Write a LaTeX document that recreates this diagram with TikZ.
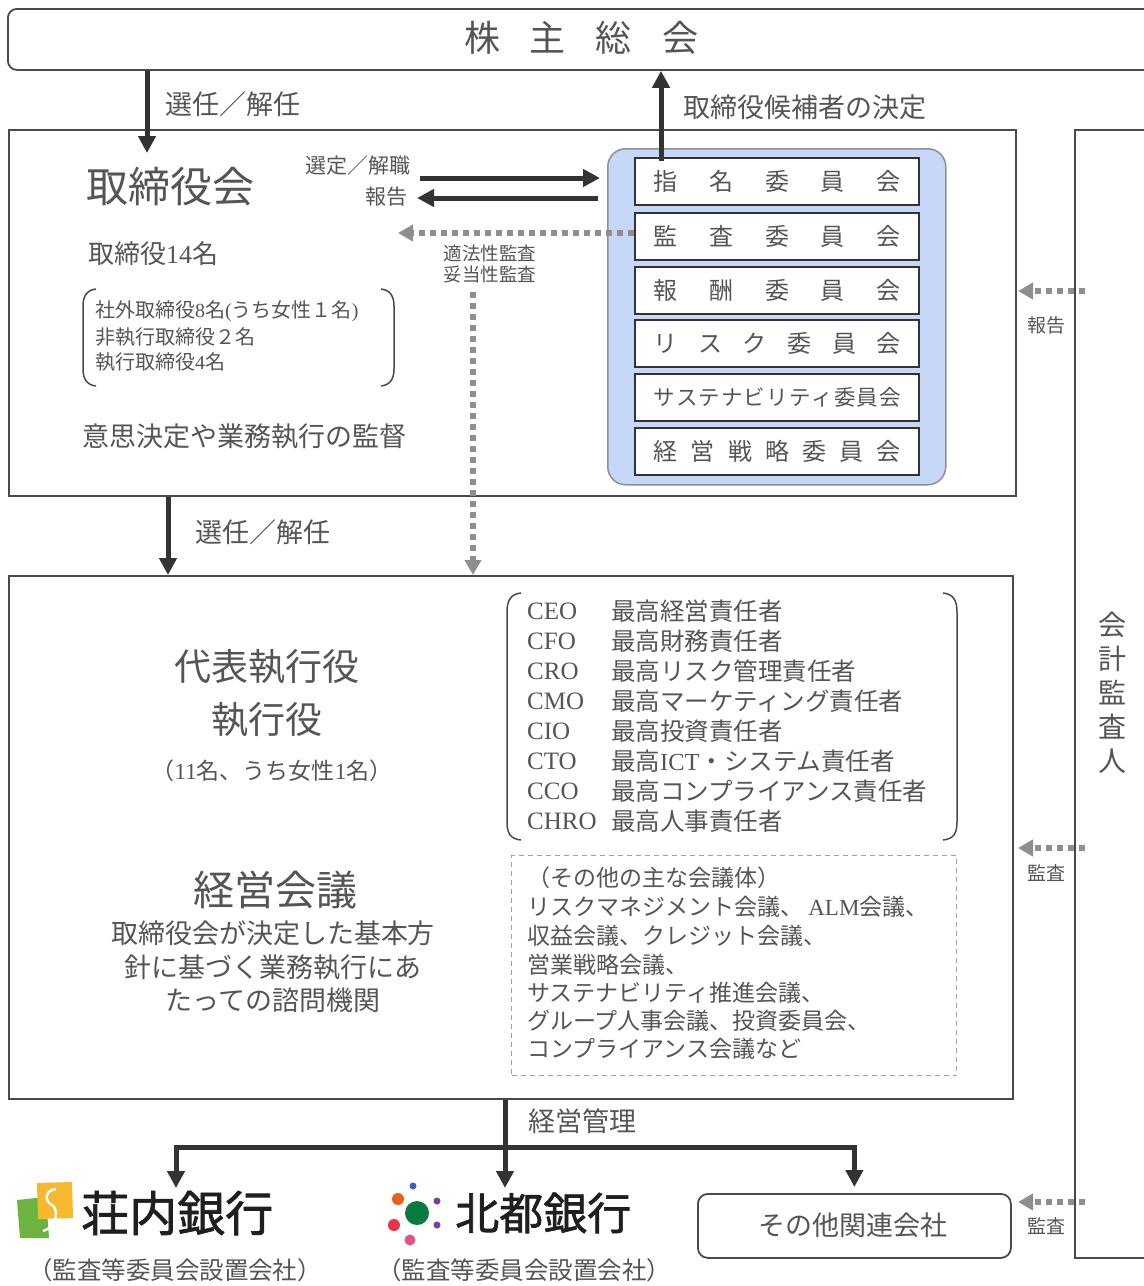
\documentclass[tikz,border=0pt]{standalone}
\usepackage{fontspec}
\setmainfont{Noto Sans CJK JP}
\newfontfamily\latf{Liberation Serif}
\newfontfamily\logof{Noto Sans CJK JP}[FakeBold=1.4]
\usetikzlibrary{arrows.meta}
\definecolor{txt}{HTML}{555555}
\definecolor{boxln}{HTML}{4A4A4A}
\definecolor{arrdk}{HTML}{333333}
\definecolor{dotg}{HTML}{8E8E8E}
\definecolor{commfill}{HTML}{C6D7F7}
\definecolor{commln}{HTML}{8C9099}
\definecolor{logoG}{HTML}{6DB33F}
\definecolor{logoY}{HTML}{F5B82E}
\definecolor{dotO}{HTML}{E8601C}
\definecolor{dotGr}{HTML}{0A7A3E}
\definecolor{dotR}{HTML}{E8334A}
\definecolor{dotP}{HTML}{E0528A}
\definecolor{dotV}{HTML}{7B3FA0}
\definecolor{dotB}{HTML}{3A60C0}
\newcommand\fsz[2]{\fontsize{#1}{#2}\selectfont}
\newcommand\spreadtxt[1]{\makebox[247pt][s]{#1}}
\begin{document}
\begin{tikzpicture}[x=1pt,y=-1pt,
  frame/.style={draw=boxln, line width=1.8pt, inner sep=0pt, anchor=north west},
  cbox/.style={draw=arrdk, line width=2.4pt, fill=white, minimum width=284pt, minimum height=47pt, inner sep=0pt, anchor=north west, text=txt, font=\fsz{24}{28}},
  lbl/.style={text=txt, inner sep=0pt},
  arr/.style={draw=arrdk, line width=5pt, -{Triangle[width=17pt,length=17pt]}},
  dotarr/.style={draw=dotg, line width=6pt, dash pattern=on 6pt off 5pt, -{Triangle[width=16pt,length=15pt]}},
  brk/.style={draw=boxln, line width=1.5pt}
]
\useasboundingbox (0,0) rectangle (1144,1286);
\fill[white] (0,0) rectangle (1144,1286);

% ---------- boxes ----------
\node[frame, rounded corners=9pt, minimum width=1160pt, minimum height=61pt] (agm) at (7,8) {};
\node[lbl, font=\fsz{36}{40}] (agmt) at (581,38) {株\hspace{30pt}主\hspace{30pt}総\hspace{30pt}会};

\node[frame, minimum width=1007pt, minimum height=366pt] (board) at (8,129) {};
\node[frame, minimum width=100pt, minimum height=1128pt] (audit) at (1074,129) {};
\node[frame, minimum width=1004pt, minimum height=523pt] (exec) at (8,575) {};
\node[frame, rounded corners=10pt, minimum width=313pt, minimum height=64pt] (other) at (697,1193) {};
\node[lbl, font=\fsz{27}{30}] (othert) at (853,1225) {その他関連会社};

\node[lbl, font=\fsz{28}{34}, align=center] (auditt) at (1112,693) {会\\計\\監\\査\\人};

% ---------- committees ----------
\node[draw=commln, fill=commfill, line width=1.5pt, rounded corners=18pt, minimum width=338pt, minimum height=336pt, inner sep=0pt, anchor=north west] (comm) at (607,148) {};
\node[cbox] (c1) at (634,157) {\spreadtxt{指\hfill{}名\hfill{}委\hfill{}員\hfill{}会}};
\node[cbox] (c2) at (634,212) {\spreadtxt{監\hfill{}査\hfill{}委\hfill{}員\hfill{}会}};
\node[cbox] (c3) at (634,266) {\spreadtxt{報\hfill{}酬\hfill{}委\hfill{}員\hfill{}会}};
\node[cbox] (c4) at (634,319) {\spreadtxt{リ\hfill{}ス\hfill{}ク\hfill{}委\hfill{}員\hfill{}会}};
\node[cbox, font=\fsz{21.5}{26}] (c5) at (634,373) {\spreadtxt{サ\hfill{}ス\hfill{}テ\hfill{}ナ\hfill{}ビ\hfill{}リ\hfill{}テ\hfill{}ィ\hfill{}委\hfill{}員\hfill{}会}};
\node[cbox] (c6) at (634,427) {\spreadtxt{経\hfill{}営\hfill{}戦\hfill{}略\hfill{}委\hfill{}員\hfill{}会}};

% ---------- board contents ----------
\node[lbl, anchor=west, font=\fsz{42}{46}] (bdt) at (86,187) {取締役会};
\node[lbl, anchor=west, font=\fsz{26}{30}] (bdn) at (88,254) {取締役{\latf 14}名};
\node[lbl, anchor=west, font=\fsz{20}{24}] (bd1) at (95,311) {社外取締役{\latf 8}名{\latf (}うち女性１名{\latf )}};
\node[lbl, anchor=west, font=\fsz{20}{24}] (bd2) at (95,337) {非執行取締役２名};
\node[lbl, anchor=west, font=\fsz{20}{24}] (bd3) at (95,362) {執行取締役{\latf 4}名};
\draw[brk] (96,289) .. controls (87,290) and (83,296) .. (83,306) -- (83,369) .. controls (83,379) and (87,385) .. (96,386);
\draw[brk] (381,289) .. controls (390,290) and (394,296) .. (394,306) -- (394,369) .. controls (394,379) and (390,385) .. (381,386);
\node[lbl, anchor=west, font=\fsz{27}{30}] (bdf) at (82,436) {意思決定や業務執行の監督};

% ---------- executive contents ----------
\node[lbl, font=\fsz{37}{40}] (ex1) at (267,667) {代表執行役};
\node[lbl, font=\fsz{37}{40}] (ex2) at (267,720) {執行役};
\node[lbl, font=\fsz{23}{26}] (ex3) at (272,771) {（{\latf 11}名、うち女性{\latf 1}名）};
\node[lbl, font=\fsz{41}{44}] (ex4) at (275,890) {経営会議};
\node[lbl, font=\fsz{27}{33.5}, align=center] (ex5) at (273,967) {取締役会が決定した基本方\\針に基づく業務執行にあ\\たっての諮問機関};

\draw[brk] (521,593) .. controls (511,594) and (507,600) .. (507,612) -- (507,822) .. controls (507,834) and (511,839) .. (521,840);
\draw[brk] (943,593) .. controls (953,594) and (957,600) .. (957,612) -- (957,822) .. controls (957,834) and (953,839) .. (943,840);
\foreach \i/\a/\j in {0/CEO/最高経営責任者, 1/CFO/最高財務責任者, 2/CRO/最高リスク管理責任者, 3/CMO/最高マーケティング責任者, 4/CIO/最高投資責任者, 5/CTO/最高{\latf ICT}・システム責任者, 6/CCO/最高コンプライアンス責任者, 7/CHRO/最高人事責任者}{
  \node[lbl, anchor=west, font=\latf\fsz{25}{28}] (ra\i) at (527,{611+30*\i}) {\a};
  \node[lbl, anchor=west, font=\fsz{24.5}{28}] (rj\i) at (611,{611+30*\i}) {\j};
}

\node[draw=gray!75, line width=1.3pt, dash pattern=on 5pt off 4pt, minimum width=445pt, minimum height=220pt, inner sep=0pt, anchor=north west] (meet) at (511,855) {};
\node[lbl, anchor=west, font=\fsz{23}{26}] (m0) at (527,878) {（その他の主な会議体）};
\node[lbl, anchor=west, font=\fsz{23}{26}] (m1) at (527,907) {リスクマネジメント会議、 {\latf ALM}会議、};
\node[lbl, anchor=west, font=\fsz{23}{26}] (m2) at (527,936) {収益会議、クレジット会議、};
\node[lbl, anchor=west, font=\fsz{23}{26}] (m3) at (527,965) {営業戦略会議、};
\node[lbl, anchor=west, font=\fsz{23}{26}] (m4) at (527,993) {サステナビリティ推進会議、};
\node[lbl, anchor=west, font=\fsz{23}{26}] (m5) at (527,1021) {グループ人事会議、投資委員会、};
\node[lbl, anchor=west, font=\fsz{23}{26}] (m6) at (527,1049) {コンプライアンス会議など};

% ---------- arrows ----------
\coordinate (selA) at (147,153);
\draw[arr] (agm.south -| selA) -- (selA);
\node[lbl, anchor=west, font=\fsz{27}{30}] (selAl) at (165,104) {選任／解任};

\coordinate (nomA) at (661,161);
\draw[arr] (nomA) -- (agm.south -| nomA);
\node[lbl, anchor=west, font=\fsz{27}{30}] (nomAl) at (683,107) {取締役候補者の決定};

\coordinate (selB) at (420,178);
\draw[arr, shorten >=7pt] (selB) -- (comm.west |- selB);
\coordinate (repB) at (417,198);
\draw[arr, shorten <=9pt] (comm.west |- repB) -- (repB);
\node[lbl, anchor=east, font=\fsz{21}{24}] (selBl) at (411,166) {選定／解職};
\node[lbl, anchor=east, font=\fsz{21}{24}] (repBl) at (408,197) {報告};

\coordinate (audL) at (398,233);
\draw[dotarr] (c2.west |- audL) -- (audL);
\node[lbl, font=\fsz{18.5}{20}] (aud1) at (490,253) {適法性監査};
\node[lbl, font=\fsz{18.5}{20}] (aud2) at (490,275) {妥当性監査};
\coordinate (audV) at (473,292);
\draw[dotarr] (audV) -- (exec.north -| audV);

\coordinate (selC) at (168,530);
\draw[arr] (board.south -| selC) -- (exec.north -| selC);
\node[lbl, anchor=west, font=\fsz{27}{30}] (selCl) at (195,532) {選任／解任};

\coordinate (mgJ) at (505,1147);
\coordinate (bk1) at (176,1188);
\coordinate (bk2) at (505,1188);
\draw[arr] (exec.south -| mgJ) -- (bk2);
\draw[arr] (mgJ) -| (bk1);
\draw[arr, shorten >=6pt] (mgJ) -| (other.north);
\node[lbl, anchor=west, font=\fsz{27}{30}] (mgl) at (528,1121) {経営管理};

\coordinate (ar1) at (1018,291);
\coordinate (ar2) at (1018,848);
\coordinate (ar3) at (1018,1202);
\draw[dotarr, shorten <=-11pt] (audit.west |- ar1) -- (ar1);
\draw[dotarr, shorten <=-11pt] (audit.west |- ar2) -- (ar2);
\draw[dotarr, shorten <=-11pt] (audit.west |- ar3) -- (ar3);
\node[lbl, font=\fsz{19}{22}] (ar1l) at (1046,325) {報告};
\node[lbl, font=\fsz{19}{22}] (ar2l) at (1046,873) {監査};
\node[lbl, font=\fsz{19}{22}] (ar3l) at (1046,1226) {監査};

% ---------- bank logos ----------
\fill[logoG] (17,1200) -- (46,1197) -- (49,1238) -- (20,1238) -- cycle;
\fill[logoY] (37,1183) -- (72,1182) -- (73,1218) -- (38,1219) -- cycle;
\draw[white, line width=2.4pt] (56,1189) .. controls (45,1190) and (44,1201) .. (52,1205) .. controls (59,1209) and (57,1227) .. (43,1231);
\node[inner sep=0pt, anchor=west, text=black!88, font=\logof\fsz{48}{52}] (shonai) at (81,1213) {荘内銀行};
\node[lbl, font=\fsz{24.5}{28}] (shonaisub) at (175,1270) {（監査等委員会設置会社）};

\fill[dotB] (413,1186) circle (3.5);
\fill[dotO] (398,1199) circle (6);
\fill[dotGr] (417,1213) circle (12);
\fill[dotR] (394,1225) circle (6);
\fill[dotP] (410,1240) circle (5.5);
\fill[dotV] (437,1201) circle (3.5);
\fill[dotV] (437,1225) circle (3.5);
\node[inner sep=0pt, anchor=west, text=black!88, font=\logof\fsz{44}{48}] (hokuto) at (455,1213) {北都銀行};
\node[lbl, font=\fsz{24.5}{28}] (hokutosub) at (524,1270) {（監査等委員会設置会社）};
\end{tikzpicture}
\end{document}
